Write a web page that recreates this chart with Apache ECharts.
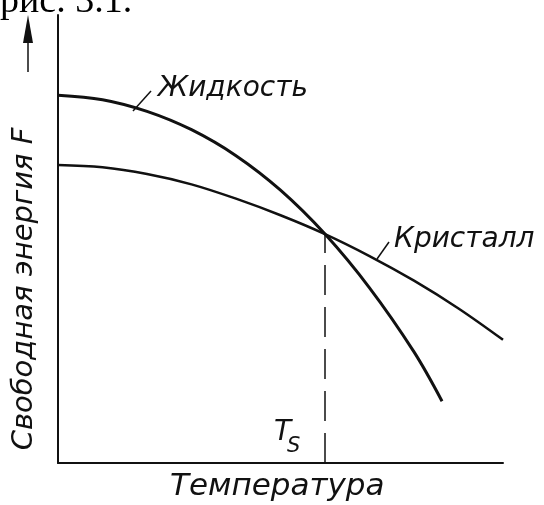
<!DOCTYPE html>
<html>
<head>
<meta charset="utf-8">
<script src="https://cdn.jsdelivr.net/npm/echarts@6/dist/echarts.min.js"></script>
<style>
  html, body { margin: 0; padding: 0; background: #fff; }
  #chart { width: 544px; height: 505px; }
</style>
</head>
<body>
<div id="chart"></div>
<script>
// температура (условные единицы, 0..100) и свободная энергия
const liquidX = [0, 10, 20, 30, 40, 50, 60, 70, 80, 86.3];
const liquidF = [82.1, 81.1, 78.5, 74.4, 68.6, 60.9, 51.1, 39.1, 24.8, 13.8];
const crystalX = [0, 10, 20, 30, 40, 50, 60, 70, 80, 90, 100];
const crystalF = [66.5, 66.0, 64.5, 62.2, 59.0, 55.3, 51.1, 46.2, 40.7, 34.5, 27.5];
const tsX = 60;
const tsF = 51.1;

const hand = 'DejaVu Sans';
const ink = '#111';

const chart = echarts.init(document.getElementById('chart'));

const option = {
  animation: false,
  backgroundColor: '#fff',
  grid: { left: 58, right: 41, top: 15, bottom: 42 },
  xAxis: {
    type: 'value',
    min: 0,
    max: 100,
    axisLine: { show: true, lineStyle: { color: ink, width: 2 } },
    axisTick: { show: false },
    axisLabel: { show: false },
    splitLine: { show: false }
  },
  yAxis: {
    type: 'value',
    min: 0,
    max: 100,
    axisLine: { show: true, lineStyle: { color: ink, width: 2 } },
    axisTick: { show: false },
    axisLabel: { show: false },
    splitLine: { show: false }
  },
  series: [
    {
      name: 'Жидкость',
      type: 'line',
      smooth: 0.35,
      symbol: 'none',
      data: liquidX.map((x, i) => [x, liquidF[i]]),
      lineStyle: { color: ink, width: 3 }
    },
    {
      name: 'Кристалл',
      type: 'line',
      smooth: 0.35,
      symbol: 'none',
      data: crystalX.map((x, i) => [x, crystalF[i]]),
      lineStyle: { color: ink, width: 2.5 },
      markLine: {
        silent: true,
        symbol: 'none',
        label: { show: false },
        lineStyle: { color: ink, width: 1.5, type: [30, 12] },
        data: [[{ coord: [tsX, 0] }, { coord: [tsX, tsF] }]]
      }
    }
  ],
  graphic: [
    // обрезанная подпись сверху
    { type: 'text', left: 0, top: -17, style: { text: 'рис. 3.1.', font: '38px "Liberation Serif"', fill: '#000' } },
    // стрелка у оси
    { type: 'polygon', shape: { points: [[28, 15], [23, 43], [33, 43]] }, style: { fill: ink } },
    { type: 'line', shape: { x1: 28, y1: 43, x2: 28, y2: 72 }, style: { stroke: ink, lineWidth: 1.5 } },
    // выноски
    { type: 'line', shape: { x1: 133, y1: 111, x2: 151, y2: 91 }, style: { stroke: ink, lineWidth: 1.5 } },
    { type: 'line', shape: { x1: 377, y1: 259, x2: 389, y2: 242 }, style: { stroke: ink, lineWidth: 1.5 } },
    // подписи
    { type: 'text', left: 158, top: 75, style: { text: 'Жидкость', font: 'italic 28px "' + hand + '"', fill: ink } },
    { type: 'text', left: 394, top: 226, style: { text: 'Кристалл', font: 'italic 28px "' + hand + '"', fill: ink } },
    { type: 'text', left: 274, top: 419, style: { text: 'T', font: 'italic 28px "' + hand + '"', fill: ink } },
    { type: 'text', left: 287, top: 436, style: { text: 'S', font: 'italic 21px "' + hand + '"', fill: ink } },
    { type: 'text', left: 170, top: 471, style: { text: 'Температура', font: 'italic 31px "' + hand + '"', fill: ink } },
    {
      type: 'text',
      x: 24, y: 289,
      rotation: Math.PI / 2,
      style: {
        text: 'Свободная энергия F',
        font: 'italic 29px "' + hand + '"',
        fill: ink,
        align: 'center',
        verticalAlign: 'middle'
      }
    }
  ]
};

chart.setOption(option);
</script>
</body>
</html>
